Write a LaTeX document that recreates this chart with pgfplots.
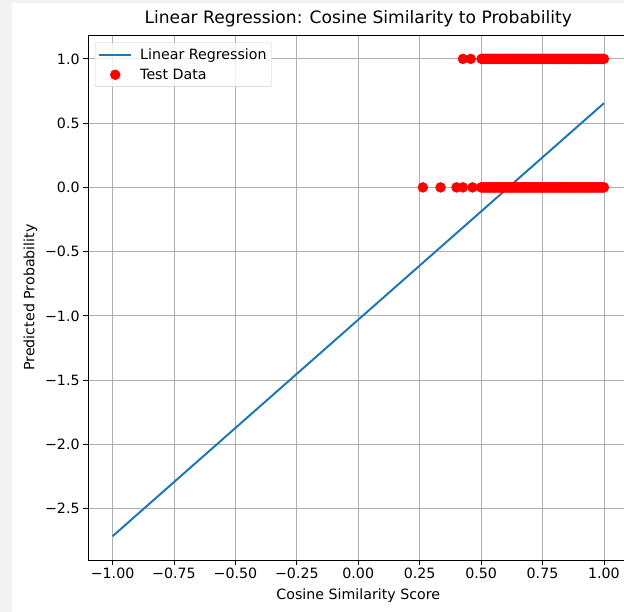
\documentclass[border=0pt]{standalone}
\usepackage{fontspec}
\setmainfont{DejaVu Sans}
\usepackage{pgfplots}
\pgfplotsset{compat=1.18}

\definecolor{mplblue}{HTML}{1F77B4}
\definecolor{gridgray}{HTML}{B0B0B0}
\definecolor{pagegray}{HTML}{F2F2F2}
\definecolor{legedge}{HTML}{CCCCCC}

\begin{document}
\begin{tikzpicture}
% screenshot margin
\fill[pagegray] (0,0) rectangle (624pt,612pt);
\fill[white] (12pt,0) rectangle (624pt,609pt);

\begin{axis}[
  at={(88pt,52pt)}, anchor=south west,
  scale only axis, width=540.5pt, height=525pt,
  xmin=-1.1, xmax=1.1, ymin=-2.9, ymax=1.186,
  xtick={-1,-0.75,-0.5,-0.25,0,0.25,0.5,0.75,1},
  xticklabels={−1.00,−0.75,−0.50,−0.25,0.00,0.25,0.50,0.75,1.00},
  ytick={-2.5,-2,-1.5,-1,-0.5,0,0.5,1},
  yticklabels={−2.5,−2.0,−1.5,−1.0,−0.5,0.0,0.5,1.0},
  tick label style={font=\fontsize{14.2}{16}\selectfont},
  tick align=outside, tick pos=left,
  major tick length=4.9pt,
  tick style={black, line width=0.8pt},
  axis line style={line width=0.8pt},
  grid=major,
  grid style={gridgray, line width=0.8pt},
  title={Linear Regression: Cosine Similarity to Probability},
  title style={font=\fontsize{17.1}{19}\selectfont, yshift=-2pt},
  xlabel={Cosine Similarity Score},
  ylabel={Predicted Probability},
  label style={font=\fontsize{14.2}{16}\selectfont},
  xlabel style={yshift=-3pt},
  ylabel style={yshift=1pt},
  legend style={at={(0.013,0.986)}, anchor=north west,
    draw=legedge, rounded corners=2pt, fill=white, fill opacity=0.8, text opacity=1,
    font=\fontsize{14.2}{16}\selectfont, row sep=4pt,
    inner xsep=3pt, inner ysep=4pt},
  legend cell align=left,
  legend image code/.code={\draw[#1, draw opacity=1] (0pt,0pt) -- (32pt,0pt); \path (38pt,0pt);},
]
\addplot[mplblue, line width=2pt] coordinates {(-1,-2.715) (1,0.655)};
\addlegendentry{Linear Regression}

\addplot[only marks, mark=*, mark size=5pt, color=red,
  legend image code/.code={\fill[red, fill opacity=1] (16pt,0pt) circle (5pt); \path (0pt,0pt); \path (38pt,0pt);}]
  coordinates {
  (0.426,1) (0.458,1)
  (0.502,1) (0.51,1) (0.52,1) (0.53,1) (0.54,1) (0.55,1) (0.56,1) (0.57,1)
  (0.58,1) (0.59,1) (0.60,1) (0.61,1) (0.62,1) (0.63,1) (0.64,1) (0.65,1)
  (0.66,1) (0.67,1) (0.68,1) (0.69,1) (0.70,1) (0.71,1) (0.72,1) (0.73,1)
  (0.74,1) (0.75,1) (0.76,1) (0.77,1) (0.78,1) (0.79,1) (0.80,1) (0.81,1)
  (0.82,1) (0.83,1) (0.84,1) (0.85,1) (0.86,1) (0.87,1) (0.88,1) (0.89,1)
  (0.90,1) (0.91,1) (0.92,1) (0.93,1) (0.94,1) (0.95,1) (0.96,1) (0.97,1)
  (0.98,1) (0.99,1) (1.00,1)
  (0.505,1) (0.515,1) (0.525,1) (0.535,1) (0.545,1) (0.555,1) (0.565,1) (0.575,1)
  (0.585,1) (0.595,1) (0.605,1) (0.615,1) (0.625,1) (0.635,1) (0.645,1) (0.655,1)
  (0.665,1) (0.675,1) (0.685,1) (0.695,1) (0.705,1) (0.715,1) (0.725,1) (0.735,1)
  (0.745,1) (0.755,1) (0.765,1) (0.775,1) (0.785,1) (0.795,1) (0.805,1) (0.815,1)
  (0.825,1) (0.835,1) (0.845,1) (0.855,1) (0.865,1) (0.875,1) (0.885,1) (0.895,1)
  (0.905,1) (0.915,1) (0.925,1) (0.935,1) (0.945,1) (0.955,1) (0.965,1) (0.975,1)
  (0.985,1) (0.995,1)
  (0.263,0) (0.335,0) (0.40,0) (0.426,0) (0.465,0)
  (0.50,0) (0.51,0) (0.52,0) (0.53,0) (0.54,0) (0.55,0) (0.56,0) (0.57,0)
  (0.58,0) (0.59,0) (0.60,0) (0.61,0) (0.62,0) (0.63,0) (0.64,0) (0.65,0)
  (0.66,0) (0.67,0) (0.68,0) (0.69,0) (0.70,0) (0.71,0) (0.72,0) (0.73,0)
  (0.74,0) (0.75,0) (0.76,0) (0.77,0) (0.78,0) (0.79,0) (0.80,0) (0.81,0)
  (0.82,0) (0.83,0) (0.84,0) (0.85,0) (0.86,0) (0.87,0) (0.88,0) (0.89,0)
  (0.90,0) (0.91,0) (0.92,0) (0.93,0) (0.94,0) (0.95,0) (0.96,0) (0.97,0)
  (0.98,0) (0.99,0) (1.00,0)
  (0.505,0) (0.515,0) (0.525,0) (0.535,0) (0.545,0) (0.555,0) (0.565,0) (0.575,0)
  (0.585,0) (0.595,0) (0.605,0) (0.615,0) (0.625,0) (0.635,0) (0.645,0) (0.655,0)
  (0.665,0) (0.675,0) (0.685,0) (0.695,0) (0.705,0) (0.715,0) (0.725,0) (0.735,0)
  (0.745,0) (0.755,0) (0.765,0) (0.775,0) (0.785,0) (0.795,0) (0.805,0) (0.815,0)
  (0.825,0) (0.835,0) (0.845,0) (0.855,0) (0.865,0) (0.875,0) (0.885,0) (0.895,0)
  (0.905,0) (0.915,0) (0.925,0) (0.935,0) (0.945,0) (0.955,0) (0.965,0) (0.975,0)
  (0.985,0) (0.995,0)
  };
\addlegendentry{Test Data}
\end{axis}

\pgfresetboundingbox
\path[use as bounding box] (0,0) rectangle (624pt,612pt);
\end{tikzpicture}
\end{document}
